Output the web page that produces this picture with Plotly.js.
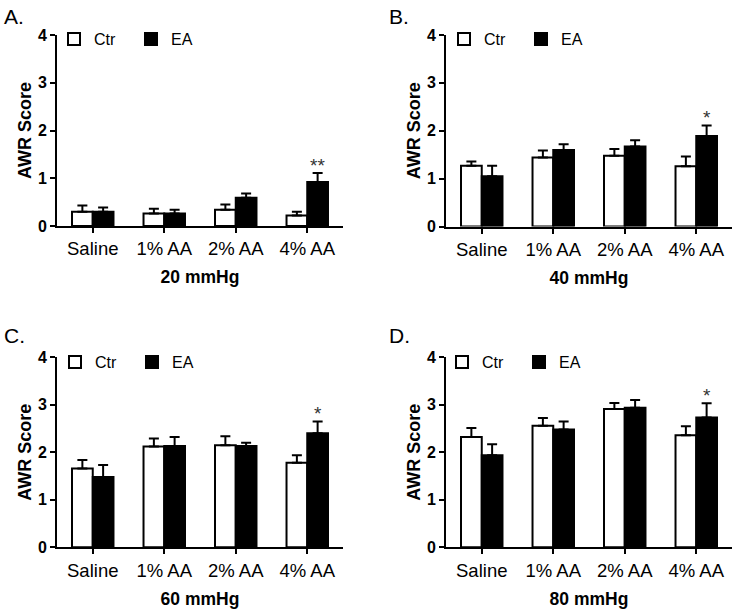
<!DOCTYPE html>
<html>
<head>
<meta charset="utf-8">
<script src="https://cdn.plot.ly/plotly-3.0.1.min.js"></script>
<style>html,body{margin:0;padding:0;background:#fff;}#chart{width:734px;height:611px;}</style>
</head>
<body>
<div id="chart"></div>
<script>
// ---- data ----
const categories = ['Saline', '1% AA', '2% AA', '4% AA'];
const seriesNames = ['Ctr', 'EA'];
const pressureTitles = ['20 mmHg', '40 mmHg', '60 mmHg', '80 mmHg'];
const panelLabels = ['A.', 'B.', 'C.', 'D.'];
const yTickValues = [0, 1, 2, 3, 4];

const ctrA = [0.30, 0.26, 0.34, 0.22];
const ctrErrA = [0.13, 0.10, 0.11, 0.08];
const eaA = [0.30, 0.26, 0.59, 0.92];
const eaErrA = [0.09, 0.08, 0.09, 0.19];

const ctrB = [1.27, 1.44, 1.48, 1.26];
const ctrErrB = [0.09, 0.15, 0.14, 0.20];
const eaB = [1.05, 1.60, 1.67, 1.89];
const eaErrB = [0.22, 0.12, 0.13, 0.22];

const ctrC = [1.66, 2.12, 2.15, 1.78];
const ctrErrC = [0.18, 0.17, 0.19, 0.16];
const eaC = [1.48, 2.13, 2.13, 2.40];
const eaErrC = [0.25, 0.19, 0.07, 0.25];

const ctrD = [2.32, 2.56, 2.91, 2.36];
const ctrErrD = [0.19, 0.16, 0.13, 0.19];
const eaD = [1.94, 2.48, 2.94, 2.73];
const eaErrD = [0.23, 0.17, 0.16, 0.30];

const starLabels = ['**', '*', '*', '*'];
const starCategory = '4% AA';

// ---- build ----
const FONT = 'Arial, "Liberation Sans", sans-serif';
const panels = [
  {ctr: ctrA, ctrErr: ctrErrA, ea: eaA, eaErr: eaErrA},
  {ctr: ctrB, ctrErr: ctrErrB, ea: eaB, eaErr: eaErrB},
  {ctr: ctrC, ctrErr: ctrErrC, ea: eaC, eaErr: eaErrC},
  {ctr: ctrD, ctrErr: ctrErrD, ea: eaD, eaErr: eaErrD}
];
const W = 734, H = 611;
const xDomains = [[57/W, 343/W], [446/W, 732/W], [57/W, 343/W], [446/W, 732/W]];
const yDomains = [[1-226/H, 1-35/H], [1-226.5/H, 1-35/H], [1-547.3/H, 1-357.3/H], [1-547.3/H, 1-357.3/H]];
const legendPos = [[54/W, 1-22/H], [444/W, 1-22/H], [55/W, 1-345/H], [442/W, 1-345/H]];
const labelPos = [[2/W, 1-3/H], [387/W, 1-3/H], [2/W, 1-322/H], [387/W, 1-322/H]];
const BARGAP = 0.42;

const traces = [];
const annotations = [];
const layout = {
  width: W, height: H,
  margin: {l: 0, r: 0, t: 0, b: 0},
  paper_bgcolor: '#fff', plot_bgcolor: '#fff',
  barmode: 'group', bargap: BARGAP, bargroupgap: 0,
  font: {family: FONT, color: '#000'},
  showlegend: true
};

panels.forEach((p, i) => {
  const n = i === 0 ? '' : String(i + 1);
  const xa = 'x' + n, ya = 'y' + n;
  const leg = 'legend' + n;
  const errStyle = (arr) => ({type: 'data', array: arr, arrayminus: arr.map(() => 0), symmetric: false,
                              color: '#000', thickness: 2, width: 5});
  traces.push({
    type: 'bar', name: seriesNames[0], x: categories, y: p.ctr,
    xaxis: xa, yaxis: ya, legend: leg,
    marker: {color: '#fff', line: {color: '#000', width: 2}},
    error_y: errStyle(p.ctrErr), hoverinfo: 'y'
  });
  traces.push({
    type: 'bar', name: seriesNames[1], x: categories, y: p.ea,
    xaxis: xa, yaxis: ya, legend: leg,
    marker: {color: '#000', line: {color: '#000', width: 2}},
    error_y: errStyle(p.eaErr), hoverinfo: 'y'
  });
  layout['xaxis' + n] = {
    domain: xDomains[i], anchor: ya, type: 'category', range: [-0.5, 3.5],
    showline: true, linecolor: '#000', linewidth: 2,
    ticks: 'outside', ticklen: 5, tickwidth: 2, tickcolor: '#000',
    tickfont: {family: FONT, size: 18.5, color: '#000'},
    showgrid: false, zeroline: false, fixedrange: true,
    title: {text: '<b>' + pressureTitles[i] + '</b>', font: {family: FONT, size: 17.5, color: '#000'}, standoff: 13}
  };
  layout['yaxis' + n] = {
    domain: yDomains[i], anchor: xa, range: [0, 4],
    tickmode: 'array', tickvals: yTickValues, ticktext: yTickValues.map(v => '<b>' + v + '</b>'),
    showline: true, linecolor: '#000', linewidth: 2,
    ticks: 'outside', ticklen: 5, tickwidth: 2, tickcolor: '#000',
    tickfont: {family: FONT, size: 16, color: '#000', weight: 'bold'},
    showgrid: false, zeroline: false, fixedrange: true,
    title: {text: '<b>AWR Score</b>', font: {family: FONT, size: 18, color: '#000'}, standoff: 2}
  };
  layout[leg] = {
    x: legendPos[i][0], y: legendPos[i][1], xanchor: 'left', yanchor: 'top',
    orientation: 'h', bgcolor: 'rgba(0,0,0,0)', borderwidth: 0,
    font: {family: FONT, size: 16, color: '#000'},
    entrywidth: 32, entrywidthmode: 'pixels', traceorder: 'normal'
  };
  annotations.push({
    text: panelLabels[i], xref: 'paper', yref: 'paper',
    x: labelPos[i][0], y: labelPos[i][1], xanchor: 'left', yanchor: 'top',
    showarrow: false, font: {family: FONT, size: 21, color: '#000'}
  });
  const ci = categories.indexOf(starCategory);
  annotations.push({
    text: starLabels[i], xref: xa, yref: ya,
    x: ci + (1 - BARGAP) / 4, y: p.ea[ci] + p.eaErr[ci],
    xanchor: 'center', yanchor: 'bottom', yshift: -5,
    showarrow: false, font: {family: FONT, size: 19, color: '#333'}
  });
});
layout.annotations = annotations;

Plotly.newPlot('chart', traces, layout, {displayModeBar: false, staticPlot: true});
</script>
</body>
</html>
